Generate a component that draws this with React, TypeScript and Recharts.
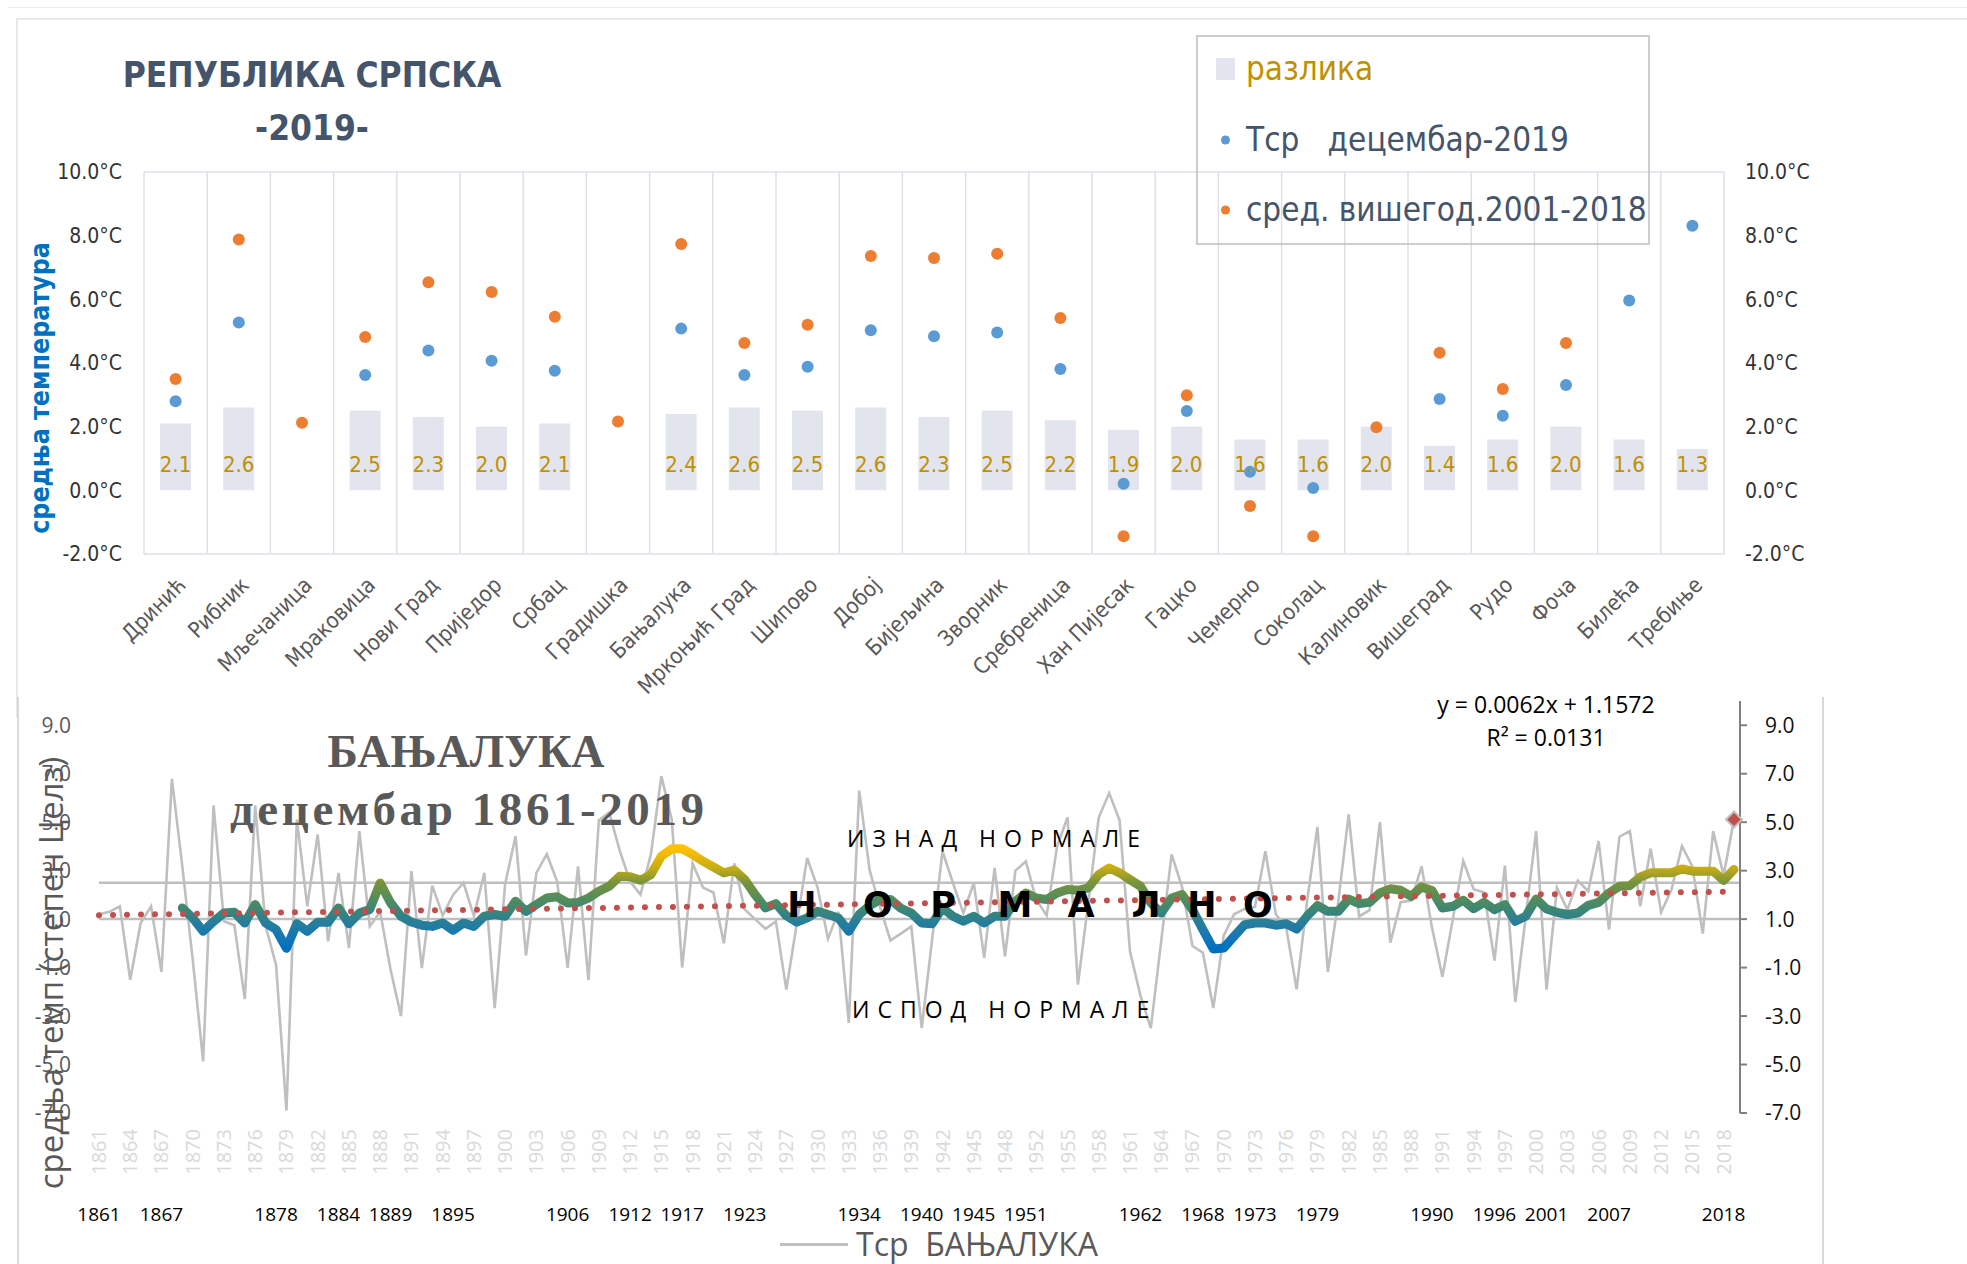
import React from 'react';
import { ComposedChart, Bar, Line, XAxis, YAxis, CartesianGrid, LabelList, ReferenceLine } from 'recharts';

const NARROW = "'Liberation Sans Narrow', 'DejaVu Sans Condensed', 'Arial Narrow', sans-serif";
const SANS = "'Open Sans', 'DejaVu Sans', sans-serif";
const SERIF = "'Liberation Serif', 'DejaVu Serif', serif";

// ---------- top chart: stations ----------
const STATIONS = ['Дринић', 'Рибник', 'Мљечаница', 'Мраковица', 'Нови Град', 'Приједор', 'Србац', 'Градишка', 'Бањалука', 'Мркоњић Град', 'Шипово', 'Добој', 'Бијељина', 'Зворник', 'Сребреница', 'Хан Пијесак', 'Гацко', 'Чемерно', 'Соколац', 'Калиновик', 'Вишеград', 'Рудо', 'Фоча', 'Билећа', 'Требиње'];
const DIFF = [2.1, 2.6, null, 2.5, 2.3, 2.0, 2.1, null, 2.4, 2.6, 2.5, 2.6, 2.3, 2.5, 2.2, 1.9, 2.0, 1.6, 1.6, 2.0, 1.4, 1.6, 2.0, 1.6, 1.3];
const DEC_2019 = [2.8, 5.27, null, 3.62, 4.39, 4.07, 3.76, null, 5.08, 3.62, 3.88, 5.03, 4.84, 4.96, 3.81, 0.21, 2.49, 0.58, 0.07, null, 2.87, 2.34, 3.31, 5.96, 8.31];
const AVG_2001_2018 = [3.5, 7.88, 2.12, 4.82, 6.54, 6.23, 5.45, 2.16, 7.74, 4.63, 5.2, 7.36, 7.3, 7.43, 5.41, -1.44, 2.99, -0.49, -1.44, 1.98, 4.32, 3.18, 4.63, null, null];
const TOP_TICKS = [-2, 0, 2, 4, 6, 8, 10];

// ---------- bottom chart: Banja Luka, December ----------
const MISSING_YEAR = 1950;
const YEARS = Array.from({ length: 2019 - 1861 + 1 }, (_, i) => 1861 + i)
  .filter((y) => y !== MISSING_YEAR)
  .map(String);
const TEMP = [
  1.2, 1.3, 1.53, -1.5, 0.84, 1.53, -1.18, 6.79, 3.19, -0.67,
  -4.87, 5.69, 0.91, 0.75, -2.3, 5.69, 0.7, -0.88, -6.9, 5.11,
  1.53, 4.49, 0.08, 2.91, -0.19, 4.63, 0.7, 1.3, -1.09, -3.0,
  2.98, -1.02, 2.38, 1.15, 2.0, 2.5, 1.12, 2.91, -2.67, 2.45,
  4.42, -0.5, 2.91, 3.68, 2.55, -1.01, 3.18, -1.52, 5.08, 5.4,
  3.83, 2.55, 2.01, 3.68, 6.9, 5.1, -1.0, 3.3, 2.3, 2.1,
  0.0, 3.3, 1.4, 1.0, 0.6, 0.9, -1.91, 0.8, 3.52, 2.3,
  0.19, 1.3, -3.28, 6.3, 3.02, 1.48, 0.12, 0.4, 0.7, -3.5,
  0.15, 3.8, 2.49, 1.25, 2.49, -0.6, 3.11, -0.54, 3.0, 3.38,
  1.8, 1.15, 4.0, 5.2, -1.7, 1.7, 5.19, 6.2, 5.08, -0.33,
  -2.15, -3.5, 0.1, 3.67, 2.32, -0.11, -0.38, -2.67, 0.32, 1.2,
  1.42, 1.5, 3.8, 1.2, 0.65, -1.9, 1.72, 4.8, -1.18, 1.72,
  5.32, 1.11, 1.37, 5.0, 0.03, 1.7, 1.76, 3.18, 0.65, -1.38,
  1.0, 3.4, 2.23, 2.1, -0.71, 3.21, -2.42, 1.1, 4.63, -1.91,
  2.29, 1.39, 2.59, 2.15, 4.22, 0.57, 4.4, 4.63, 1.53, 3.9,
  1.28, 2.22, 4.01, 3.18, 0.4, 4.63, 2.8, 5.11,
];
// 9-year moving average as drawn in the reference
const MA9 = [
  null, null, null, null, null, null, null, null, 1.46, 1.05,
  0.5, 0.9, 1.25, 1.28, 0.84, 1.6, 0.84, 0.57, -0.2, 0.81,
  0.5, 0.87, 0.87, 1.46, 0.81, 1.25, 1.4, 2.49, 1.67, 1.12,
  0.88, 0.75, 0.7, 0.84, 0.54, 0.84, 0.7, 1.12, 1.19, 1.12,
  1.74, 1.32, 1.6, 1.87, 1.92, 1.67, 1.69, 1.87, 2.15, 2.36,
  2.77, 2.75, 2.6, 2.84, 3.6, 3.9, 3.9, 3.67, 3.39, 3.15,
  2.91, 3.02, 2.63, 2.01, 1.46, 1.64, 1.14, 0.88, 1.05, 1.32,
  1.19, 1.05, 0.5, 1.19, 1.56, 1.81, 1.81, 1.45, 1.25, 0.84,
  0.81, 1.46, 1.12, 0.91, 1.12, 0.84, 1.12, 1.12, 1.74, 2.08,
  1.87, 1.81, 2.08, 2.22, 2.19, 2.29, 2.84, 3.11, 2.91, 2.63,
  2.36, 1.67, 1.25, 1.87, 2.01, 1.39, 0.57, -0.23, -0.19, 0.29,
  0.77, 0.84, 0.84, 0.75, 0.81, 0.59, 1.12, 1.56, 1.32, 1.32,
  1.83, 1.64, 1.69, 2.08, 2.25, 2.19, 1.94, 2.33, 2.18, 1.46,
  1.53, 1.78, 1.43, 1.69, 1.39, 1.6, 0.91, 1.12, 1.83, 1.42,
  1.28, 1.19, 1.25, 1.57, 1.69, 2.08, 2.36, 2.38, 2.74, 2.91,
  2.91, 2.91, 3.07, 2.98, 2.98, 2.98, 2.6, 3.05,
];
const MARK_YEAR = '2019';
const SEC_LABEL_YEARS = ['1861', '1867', '1878', '1884', '1889', '1895', '1906', '1912', '1917', '1923', '1934', '1940', '1945', '1951', '1962', '1968', '1973', '1979', '1990', '1996', '2001', '2007', '2018'];
const BOTTOM_TICKS = [-7, -5, -3, -1, 1, 3, 5, 7, 9];
const NORMAL_LOW = 1.0;
const NORMAL_HIGH = 2.5;
const TREND_SLOPE = 0.0062;
const TREND_INTERCEPT = 1.1572;

const BLUE = '#5B9BD5';
const ORANGE = '#ED7D31';
const BAR_FILL = '#E2E5EE';
const GOLD = '#BF9000';
const SLATE = '#44546A';

const topData = STATIONS.map((name, i) => ({ name, diff: DIFF[i], dec: DEC_2019[i], avg: AVG_2001_2018[i] }));
const bottomData = YEARS.map((year, i) => ({
  year,
  t: TEMP[i],
  ma: MA9[i],
  mark: year === MARK_YEAR ? TEMP[i] : null,
}));

const fmtC = (v: number) => `${v.toFixed(1)}°C`;

const StationTick = (props: any) => {
  const { x, y, payload } = props;
  const ax = x + 6;
  const ay = y + 19;
  return (
    <text x={ax} y={ay} transform={`rotate(-45, ${ax}, ${ay})`} textAnchor="end" dy="0.35em" fontSize={22} fill="#595959" fontFamily={NARROW}>
      {payload.value}
    </text>
  );
};

const YearTick = (props: any) => {
  const { x, y, payload } = props;
  const ay = y + 8;
  return (
    <text x={x} y={ay} transform={`rotate(-90, ${x}, ${ay})`} textAnchor="end" dy="0.35em" fontSize={20} fill="#D9D9D9" fontFamily={SANS}>
      {payload.value}
    </text>
  );
};

const SecYearTick = (props: any) => {
  const { x, y, payload } = props;
  if (!SEC_LABEL_YEARS.includes(payload.value)) return <g />;
  return (
    <text x={x} y={y + 30} textAnchor="middle" fontSize={19} fill="#000" fontFamily={SANS}>
      {payload.value}
    </text>
  );
};

const Diamond = (props: any) => {
  const { cx, cy, index } = props;
  if (typeof cx !== 'number' || typeof cy !== 'number' || Number.isNaN(cy)) return <g key={`d${index}`} />;
  const s = 8;
  return (
    <path key={`d${index}`} d={`M${cx},${cy - s}L${cx + s},${cy}L${cx},${cy + s}L${cx - s},${cy}Z`} fill="#C0504D" stroke="#BFBFBF" strokeWidth={2} />
  );
};

const TopChart = () => (
  <ComposedChart width={1967} height={700} data={topData} margin={{ top: 172, right: 123, bottom: 26, left: 44 }}>
    <CartesianGrid
      stroke="#DDE0E6"
      strokeWidth={1.5}
      verticalCoordinatesGenerator={({ offset }: any) =>
        Array.from({ length: STATIONS.length + 1 }, (_, i) => offset.left + (i * offset.width) / STATIONS.length)
      }
    />
    <XAxis dataKey="name" interval={0} axisLine={false} tickLine={false} height={120} tick={<StationTick />} />
    <YAxis yAxisId="l" domain={[-2, 10]} ticks={TOP_TICKS} width={100} axisLine={false} tickLine={false} tickSize={6} tickMargin={16} tickFormatter={fmtC} tick={{ fill: '#333', fontSize: 21, fontFamily: NARROW }} />
    <YAxis yAxisId="r" orientation="right" domain={[-2, 10]} ticks={TOP_TICKS} width={120} axisLine={false} tickLine={false} tickSize={6} tickMargin={15} tickFormatter={fmtC} tick={{ fill: '#333', fontSize: 21, fontFamily: NARROW }} />
    <Bar yAxisId="l" dataKey="diff" fill={BAR_FILL} barSize={31} isAnimationActive={false}>
      <LabelList
        dataKey="diff"
        position="insideBottom"
        offset={18}
        fill={GOLD}
        fontSize={22}
        fontFamily={NARROW}
        formatter={(v: any) => (v == null ? '' : Number(v).toFixed(1))}
      />
    </Bar>
    <Line yAxisId="l" dataKey="dec" stroke="none" dot={{ r: 6, fill: BLUE, stroke: 'none' }} activeDot={false} isAnimationActive={false} />
    <Line yAxisId="r" dataKey="avg" stroke="none" dot={{ r: 6, fill: ORANGE, stroke: 'none' }} activeDot={false} isAnimationActive={false} />
  </ComposedChart>
);

const maVals = MA9.filter((v): v is number => v != null);
const maMax = Math.max(...maVals);
const maMin = Math.min(...maVals);
const MA_COLOR_STOPS: [number, string][] = [
  [3.9, '#FFC000'],
  [3.1, '#C6AC14'],
  [2.5, '#77933C'],
  [1.9, '#568D58'],
  [1.3, '#38857A'],
  [0.8, '#257D9E'],
  [0.2, '#1276B8'],
  [-0.25, '#0070C0'],
];

const BottomChart = () => {
  const n = YEARS.length;
  return (
    <ComposedChart width={1967} height={574} data={bottomData} margin={{ top: 11, right: 107, bottom: 31, left: 9 }}>
      <defs>
        <linearGradient id="maGrad" x1="0" y1="0" x2="0" y2="1">
          {MA_COLOR_STOPS.map(([v, c]) => (
            <stop key={v} offset={Math.min(1, Math.max(0, (maMax - v) / (maMax - maMin)))} stopColor={c} />
          ))}
        </linearGradient>
      </defs>
      <XAxis xAxisId="m" dataKey="year" scale="point" padding={{ left: 0, right: 6 }} interval={2} axisLine={false} tickLine={false} height={70} tick={<YearTick />} />
      <XAxis xAxisId="s" dataKey="year" scale="point" padding={{ left: 0, right: 6 }} interval={0} axisLine={false} tickLine={false} height={50} tick={<SecYearTick />} />
      <YAxis yAxisId="l" domain={[-7, 10]} ticks={BOTTOM_TICKS} width={90} axisLine={false} tickLine={false} tickSize={6} tickMargin={22} tickFormatter={(v: number) => v.toFixed(1)} tick={{ fill: '#595959', fontSize: 21, fontFamily: SANS }} />
      <YAxis yAxisId="r" orientation="right" domain={[-7, 10]} ticks={BOTTOM_TICKS} width={120} axisLine={{ stroke: '#808080', strokeWidth: 2 }} tickLine={{ stroke: '#808080', strokeWidth: 2 }} tickSize={7} tickMargin={18} tickFormatter={(v: number) => v.toFixed(1)} tick={{ fill: '#111', fontSize: 21, fontFamily: SANS }} />
      <ReferenceLine xAxisId="m" yAxisId="l" y={NORMAL_HIGH} stroke="#BFBFBF" strokeWidth={2.5} />
      <ReferenceLine xAxisId="m" yAxisId="l" y={NORMAL_LOW} stroke="#BFBFBF" strokeWidth={2.5} />
      <Line xAxisId="m" yAxisId="l" dataKey="t" stroke="#BFBFBF" strokeWidth={2.6} dot={false} activeDot={false} isAnimationActive={false} />
      <Line xAxisId="s" yAxisId="r" dataKey="ma" stroke="url(#maGrad)" strokeWidth={9} strokeLinejoin="round" strokeLinecap="round" dot={false} activeDot={false} isAnimationActive={false} />
      <ReferenceLine
        xAxisId="m"
        yAxisId="l"
        segment={[
          { x: YEARS[0], y: TREND_SLOPE * 1 + TREND_INTERCEPT },
          { x: YEARS[n - 1], y: TREND_SLOPE * n + TREND_INTERCEPT },
        ]}
        stroke="#C0504D"
        strokeWidth={6}
        strokeDasharray="0 14"
        strokeLinecap="round"
      />
      <Line xAxisId="s" yAxisId="r" dataKey="mark" stroke="none" dot={<Diamond />} activeDot={false} isAnimationActive={false} />
    </ComposedChart>
  );
};

const NORMAL_WORD = ['Н', 'О', 'Р', 'М', 'А', 'Л', 'Н', 'О'];
const NORMAL_X = [802, 878, 943, 1015, 1081, 1146, 1202, 1258];

const Overlay = () => (
  <svg width={1967} height={1264} style={{ position: 'absolute', left: 0, top: 0, pointerEvents: 'none' }}>
    {/* top chart title and y label */}
    <text x={312} y={87} textAnchor="middle" fontFamily={NARROW} fontWeight="bold" fontSize={35} fill={SLATE}>РЕПУБЛИКА СРПСКА</text>
    <text x={312} y={140} textAnchor="middle" fontFamily={NARROW} fontWeight="bold" fontSize={35} fill={SLATE}>-2019-</text>
    <text transform="translate(49, 388) rotate(-90)" textAnchor="middle" fontFamily={NARROW} fontWeight="bold" fontSize={26.5} fill="#0070C0">средња температура</text>

    {/* top legend */}
    <rect x={1197} y={36} width={452} height={208} fill="none" stroke="#BFBFBF" strokeWidth={1.5} />
    <rect x={1216} y={58} width={19} height={22} fill={BAR_FILL} />
    <text x={1246} y={80} fontFamily={NARROW} fontSize={33} fill={GOLD}>разлика</text>
    <circle cx={1225.5} cy={140} r={4.5} fill={BLUE} />
    <text x={1246} y={151} fontFamily={NARROW} fontSize={33} fill={SLATE} style={{ whiteSpace: 'pre' }}>Тср   децембар-2019</text>
    <circle cx={1225.5} cy={210} r={4.5} fill={ORANGE} />
    <text x={1246} y={221} fontFamily={NARROW} fontSize={33} fill={SLATE}>сред. вишегод.2001-2018</text>

    {/* bottom chart titles */}
    <text x={466} y={767} textAnchor="middle" fontFamily={SERIF} fontWeight="bold" fontSize={46} fill="#595959">БАЊАЛУКА</text>
    <text x={467} y={825} textAnchor="middle" fontFamily={SERIF} fontWeight="bold" fontSize={47} fill="#595959" textLength={474} lengthAdjust="spacing">децембар 1861-2019</text>
    <text transform="translate(63, 973) rotate(-90)" textAnchor="middle" fontFamily={SANS} fontSize={33} fill="#595959">средња темп (степен Целз)</text>

    <text x={1546} y={713} textAnchor="middle" fontFamily={SANS} fontSize={23} fill="#000">y = 0.0062x + 1.1572</text>
    <text x={1546} y={746} textAnchor="middle" fontFamily={SANS} fontSize={23} fill="#000">R² = 0.0131</text>

    <text x={847} y={847} fontFamily={SANS} fontSize={23} letterSpacing={8} fill="#000" style={{ whiteSpace: 'pre' }}>ИЗНАД НОРМАЛЕ</text>
    <text x={852} y={1018} fontFamily={SANS} fontSize={23} letterSpacing={8} fill="#000" style={{ whiteSpace: 'pre' }}>ИСПОД НОРМАЛЕ</text>
    {NORMAL_WORD.map((ch, i) => (
      <text key={i} x={NORMAL_X[i]} y={917} textAnchor="middle" fontFamily="'DejaVu Sans', sans-serif" fontWeight="bold" fontSize={35} fill="#000">{ch}</text>
    ))}

    {/* bottom legend */}
    <line x1={780} y1={1244.5} x2={848} y2={1244.5} stroke="#BFBFBF" strokeWidth={3} />
    <text x={856} y={1256} fontFamily={SANS} fontSize={32} fill="#595959" style={{ whiteSpace: 'pre' }}>Тср  БАЊАЛУКА</text>
  </svg>
);

export default function App() {
  return (
    <div style={{ position: 'absolute', left: 0, top: 0, width: 1967, height: 1264, background: '#fff', overflow: 'hidden' }}>
      <div style={{ position: 'absolute', left: 8, top: 7, width: 1959, height: 0, borderTop: '1px solid #eeeeee' }} />
      <div style={{ position: 'absolute', left: 16, top: 18, width: 1960, height: 700, borderTop: '2px solid #E6E8EC', borderLeft: '2px solid #E6E8EC', boxSizing: 'border-box' }} />
      <div style={{ position: 'absolute', left: 0, top: 0 }}>
        <TopChart />
      </div>
      <div style={{ position: 'absolute', left: 17, top: 697, width: 1807, height: 600, background: '#fff', borderLeft: '2px solid #D9D9D9', borderRight: '2px solid #D9D9D9', boxSizing: 'border-box' }} />
      <div style={{ position: 'absolute', left: 0, top: 690 }}>
        <BottomChart />
      </div>
      <Overlay />
    </div>
  );
}
